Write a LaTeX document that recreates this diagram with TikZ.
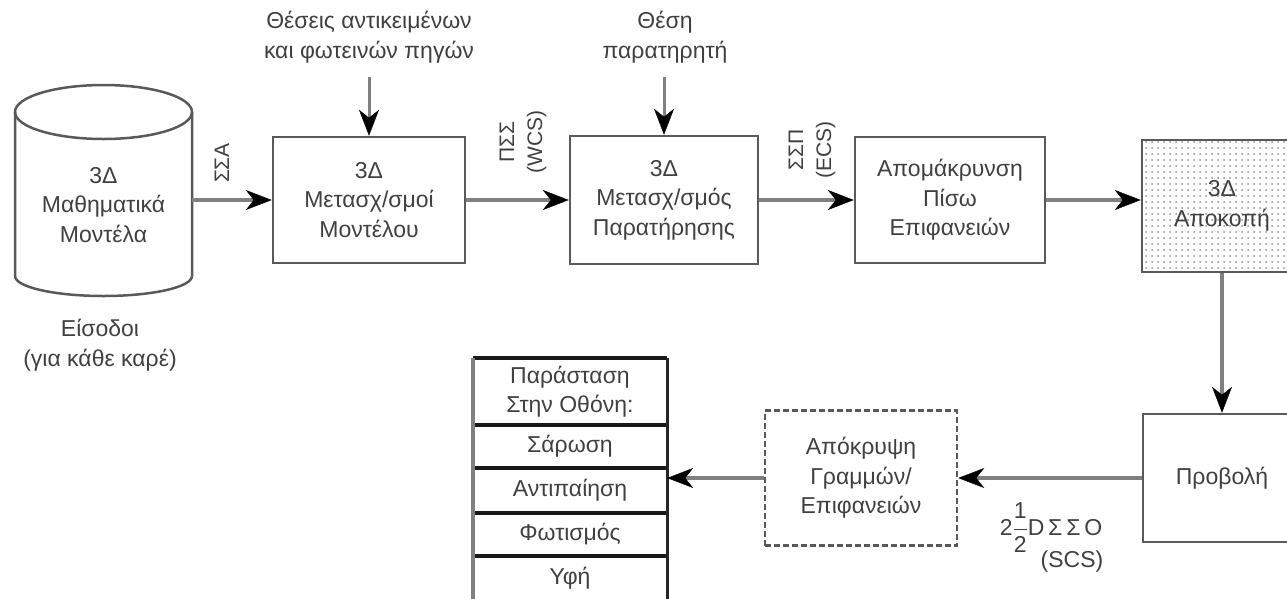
\documentclass[tikz,border=0pt]{standalone}
\usepackage{amsmath}
\usepackage{fontspec}
\setmainfont{Liberation Sans}
\usepackage{xcolor}
\usetikzlibrary{arrows.meta,patterns.meta}
\newcommand{\diagfont}{\fontsize{23}{29.5}\selectfont}
\newcommand{\lblfont}{\fontsize{21}{28}\selectfont}
\tikzset{
	blok/.style={draw=black!65, line width=2.5pt, align=center, text=black!75, inner sep=0pt, font=\diagfont},
	txt/.style={align=center, text=black!75, inner sep=0pt, font=\diagfont},
	lbl/.style={align=center, text=black!75, inner sep=0pt, font=\lblfont, rotate=90},
	row/.style={minimum width=194pt, inner sep=0pt, align=center, text=black!75, font=\diagfont},
	flow/.style={draw=black!50, line width=3.5pt, ->},
	sep/.style={draw=black!90, line width=3.5pt}
}

\begin{document}
\begin{tikzpicture}[x=1pt,y=-1pt,>={Stealth[length=26pt,width=20pt,inset=8pt,color=black,line width=0.4pt]}]
			\useasboundingbox (0,0) rectangle (1287,598);
			\clip (0,0) rectangle (1287,598);

			% The database cylinder
			\draw[draw=black!65, line width=2.5pt] (103.5,112) ellipse [x radius=88.5, y radius=27];
			\draw[draw=black!65, line width=2.5pt] (15,112) -- (15,276) arc[start angle=180, end angle=0, x radius=88.5, y radius=20] -- (192,112);
			\coordinate (cylR) at (192,200);
			\node[txt] (cyl) at (103.5,205) {3Δ\\Μαθηματικά\\Μοντέλα};
			\node[txt] (inp) at (100,345) {Είσοδοι\\(για κάθε καρέ)};

			% The pipeline boxes
			\node[blok, minimum width=192pt, minimum height=126pt] (mtx) at (369,200) {3Δ\\Μετασχ/σμοί\\Μοντέλου};
			\node[blok, minimum width=188pt, minimum height=128pt] (view) at (664,200) {3Δ\\Μετασχ/σμός\\Παρατήρησης};
			\node[blok, minimum width=190pt, minimum height=126pt] (back) at (950,200) {Απομάκρυνση\\Πίσω\\Επιφανειών};
			\node[blok, pattern={Dots[distance=6pt,radius=1pt]}, pattern color=black!45, minimum width=160pt, minimum height=132pt] (clip) at (1222,206) {3Δ\\Αποκοπή};
			\node[blok, minimum width=158pt, minimum height=128pt] (proj) at (1222,478) {Προβολή};
			\node[blok, dash pattern=on 6pt off 3pt, minimum width=192pt, minimum height=135pt] (hide) at (861,478) {Απόκρυψη\\Γραμμών/\\Επιφανειών};

			% The inputs from above
			\node[txt] (in1) at (369,37) {Θέσεις αντικειμένων\\και φωτεινών πηγών};
			\node[txt] (in2) at (665,37) {Θέση\\παρατηρητή};

			% The screen stack
			\node[row, minimum height=67pt] (r1) at (570,391.5) {Παράσταση\\Στην Οθόνη:};
			\node[row, minimum height=43pt] (r2) at (570,446.5) {Σάρωση};
			\node[row, minimum height=45pt] (r3) at (570,490.5) {Αντιπαίηση};
			\node[row, minimum height=43pt] (r4) at (570,534.5) {Φωτισμός};
			\node[row, minimum height=44pt] (r5) at (570,578) {Υφή};
			\foreach \r in {r1,r2,r3,r4,r5}
				\draw[sep] (\r.north west) -- (\r.north east);
			\draw[draw=black!50, line width=3.5pt] (r1.north west) -- (r5.south west);
			\draw[draw=black!85, line width=3pt] (r1.north east) -- (r5.south east);

			% The labels
			\node[lbl] (ssa) at (222,163) {ΣΣΑ};
			\node[lbl] (wcs) at (523,142) {ΠΣΣ\\(WCS)};
			\node[lbl] (ecs) at (812,150) {ΣΣΠ\\(ECS)};
			\node[txt] (scs) at (1051,528) {2$\dfrac{\text{1}}{\text{2}}$D\,Σ\,Σ\,Ο};
			\node[txt] (scs2) at (1072,562) {(SCS)};

			% The connectors
			\draw[flow] (cylR) -- (mtx);
			\draw[flow] (mtx) -- (view);
			\draw[flow] (view) -- (back);
			\draw[flow] (back.east) -- (clip.west |- back.east);
			\draw[flow] (clip) -- (proj);
			\draw[flow] (proj) -- (hide);
			\draw[flow] (hide.west) -- (r3.east |- hide.west);
			\draw[flow, line width=3pt, shorten <=14pt] (in1) -- (mtx);
			\draw[flow, line width=3pt, shorten <=14pt] (in2.south -| view.north) -- (view);
		\end{tikzpicture}
\end{document}
